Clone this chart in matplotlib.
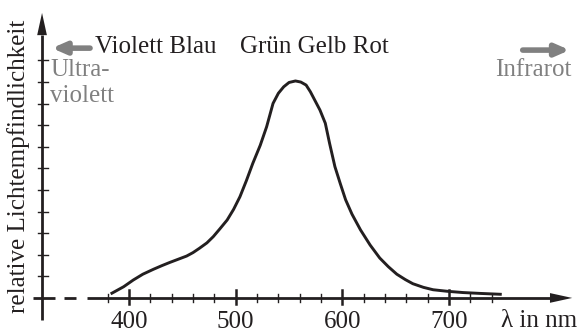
import matplotlib
matplotlib.use('Agg')
import matplotlib.pyplot as plt

# Wellenlaenge in nm und relative Lichtempfindlichkeit
wellenlaenge = [384, 395, 404, 413, 423, 431, 438, 446, 454, 460, 466, 473, 479,
                485, 492, 498, 504, 510, 516, 523, 529, 532, 535, 540, 545, 550,
                556, 561, 566, 570, 579, 584, 588, 593, 598, 603, 609, 617, 626,
                635, 643, 651, 659, 666, 676, 685, 698, 713, 729, 748]
empfindlichkeit = [0.022, 0.052, 0.083, 0.110, 0.133, 0.150, 0.164, 0.179, 0.194,
                   0.210, 0.230, 0.255, 0.284, 0.319, 0.361, 0.410, 0.469, 0.543,
                   0.623, 0.707, 0.793, 0.847, 0.901, 0.948, 0.978, 0.998, 1.005,
                   1.0, 0.986, 0.955, 0.87, 0.809, 0.716, 0.608, 0.53, 0.455,
                   0.388, 0.315, 0.245, 0.185, 0.145, 0.11, 0.085, 0.066, 0.049,
                   0.038, 0.031, 0.025, 0.021, 0.017]

x_labels = [400, 500, 600, 700]
x_minor = list(range(380, 741, 20))
y_ticks = [0.1 * i for i in range(1, 12)]
farben = "Violett Blau"
farben2 = "Grün Gelb Rot"

plt.rcParams['font.family'] = ['Liberation Serif', 'DejaVu Serif']
fs = 18
fig = plt.figure(figsize=(5.8, 3.34), dpi=100)
ax = fig.add_axes([0, 0, 1, 1])
ax.set_xlim(279.1, 822.7)
ax.set_ylim(-0.167, 1.38)
ax.axis('off')

black = '#231f20'
grey = '#808080'
y_ax = 318.5

# y-Achse mit Pfeil
ax.plot([y_ax, y_ax], [-0.10, 1.22], color=black, lw=2.0, solid_capstyle='butt')
ax.annotate('', xy=(y_ax, 1.333), xytext=(y_ax, 1.20),
            arrowprops=dict(arrowstyle='-|>,head_width=0.35,head_length=1.6',
                            color=black, lw=0))
for v in y_ticks:
    ax.plot([y_ax - 3.5, y_ax + 5.5], [v, v], color=black, lw=1.0)

# x-Achse, links gestrichelt
ax.plot([310, 331], [0, 0], color=black, lw=2.0, solid_capstyle='butt')
ax.plot([339, 350], [0, 0], color=black, lw=2.0, solid_capstyle='butt')
ax.plot([361, 795], [0, 0], color=black, lw=2.0, solid_capstyle='butt')
ax.annotate('', xy=(818, 0), xytext=(788, 0),
            arrowprops=dict(arrowstyle='-|>,head_width=0.35,head_length=1.6',
                            color=black, lw=0))
for t in x_minor:
    if t in x_labels:
        ax.plot([t, t], [-0.03, 0.035], color=black, lw=1.8)
    else:
        ax.plot([t, t], [-0.017, 0.02], color=black, lw=1.0)
for t in x_labels:
    ax.text(t, -0.11, str(t), ha='center', va='center', fontsize=fs, color=black)
ax.text(820, -0.105, 'λ in nm', ha='right', va='center', fontsize=fs, color=black)

# Kurve
ax.plot(wellenlaenge, empfindlichkeit, color=black, lw=2.1,
        solid_joinstyle='round')

# Beschriftungen oben
ax.text(368, 1.162, farben, ha='left', va='center', fontsize=fs, color=black)
ax.text(504, 1.162, farben2, ha='left', va='center', fontsize=fs, color=black)
ax.annotate('', xy=(327.8, 1.157), xytext=(363.5, 1.157),
            arrowprops=dict(arrowstyle='-|>,head_width=0.35,head_length=0.8',
                            color=grey, lw=4, shrinkA=0, shrinkB=0))
ax.annotate('', xy=(813, 1.148), xytext=(769, 1.148),
            arrowprops=dict(arrowstyle='-|>,head_width=0.35,head_length=0.8',
                            color=grey, lw=4, shrinkA=0, shrinkB=0))
ax.text(326, 1.056, 'Ultra-', ha='left', va='center', fontsize=fs, color=grey)
ax.text(326, 0.935, 'violett', ha='left', va='center', fontsize=fs, color=grey)
ax.text(815, 1.056, 'Infrarot', ha='right', va='center', fontsize=fs, color=grey)

ax.text(296, 0.61, 'relative Lichtempfindlichkeit', rotation=90, ha='center',
        va='center', fontsize=fs, color=black)

fig.savefig('out.png', dpi=100)
